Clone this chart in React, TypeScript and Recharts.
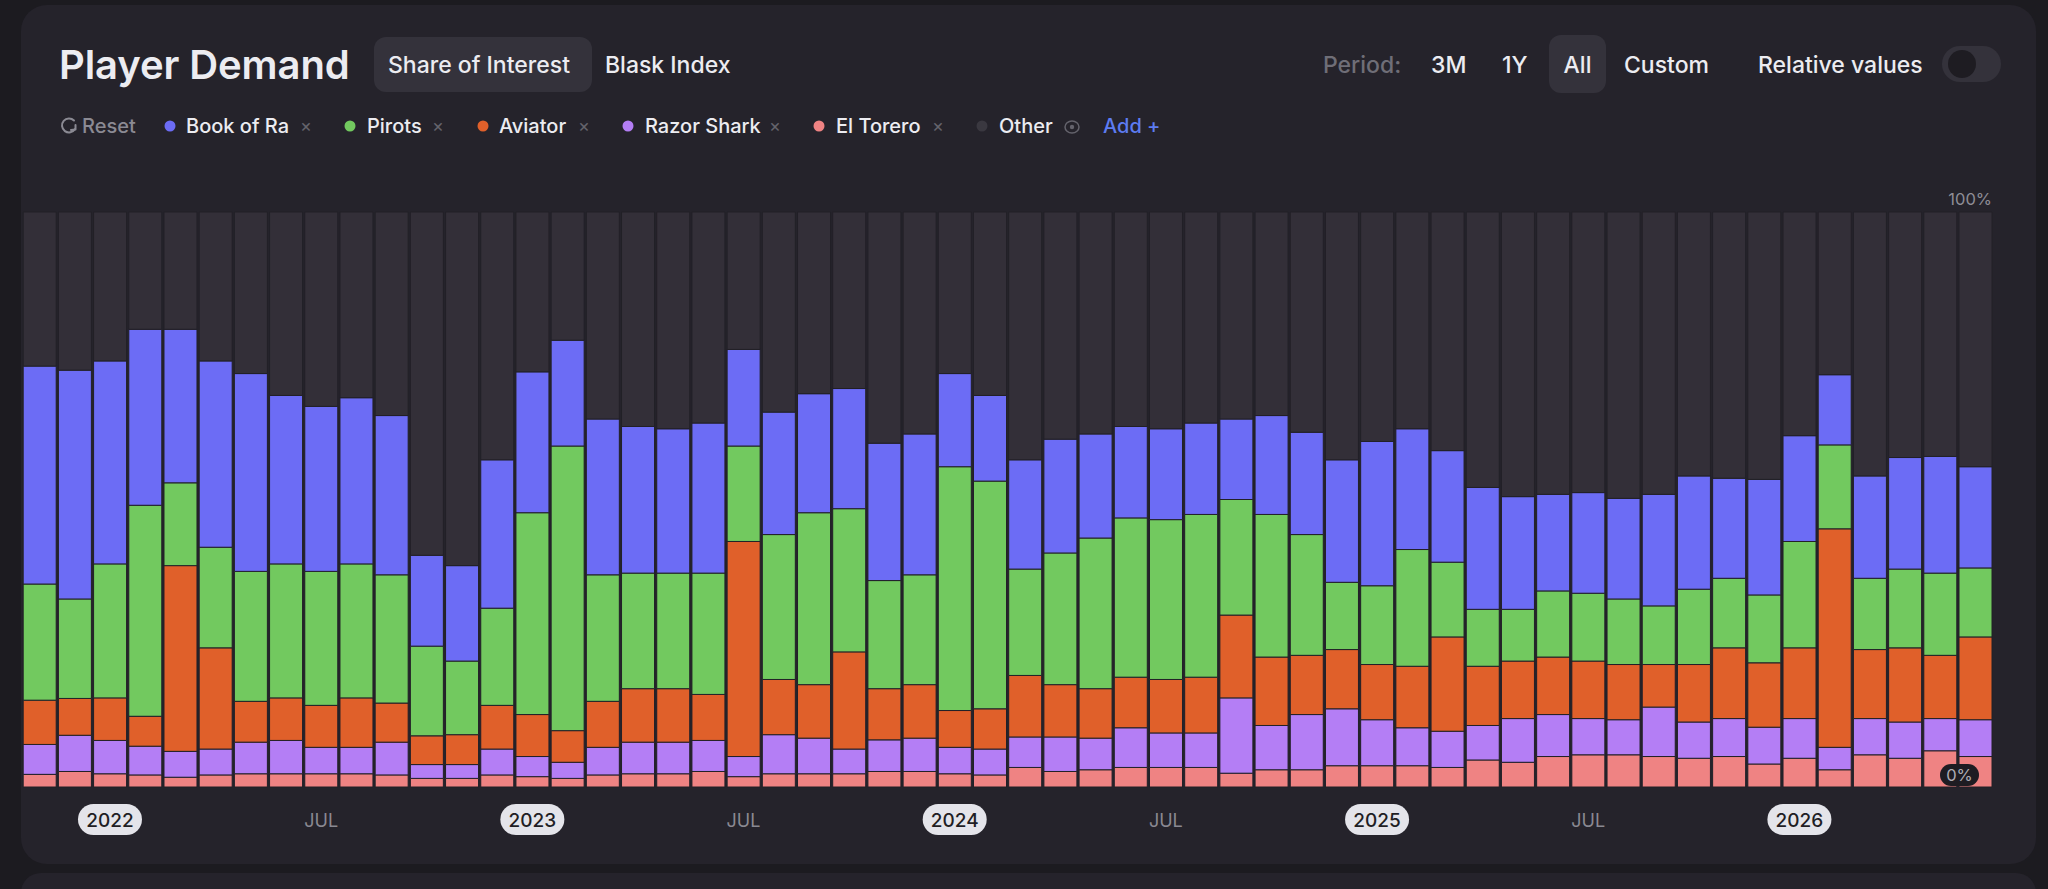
import React from 'react';
import { BarChart, Bar, XAxis, YAxis } from 'recharts';

const months = [
  '2021-11', '2021-12',
  '2022-01', '2022-02', '2022-03', '2022-04', '2022-05', '2022-06', '2022-07', '2022-08', '2022-09', '2022-10', '2022-11', '2022-12',
  '2023-01', '2023-02', '2023-03', '2023-04', '2023-05', '2023-06', '2023-07', '2023-08', '2023-09', '2023-10', '2023-11', '2023-12',
  '2024-01', '2024-02', '2024-03', '2024-04', '2024-05', '2024-06', '2024-07', '2024-08', '2024-09', '2024-10', '2024-11', '2024-12',
  '2025-01', '2025-02', '2025-03', '2025-04', '2025-05', '2025-06', '2025-07', '2025-08', '2025-09', '2025-10', '2025-11', '2025-12',
  '2026-01', '2026-02', '2026-03', '2026-04', '2026-05', '2026-06',
];

const elTorero = [2.2, 2.7, 2.3, 2.1, 1.7, 2.1, 2.3, 2.3, 2.3, 2.3, 2.1, 1.5, 1.5, 2.1, 1.8, 1.5, 2.1, 2.3, 2.3, 2.7, 1.8, 2.3, 2.3, 2.3, 2.7, 2.7, 2.3, 2.1, 3.4, 2.7, 3.0, 3.4, 3.4, 3.4, 2.4, 3.0, 3.0, 3.7, 3.7, 3.7, 3.4, 4.7, 4.3, 5.3, 5.6, 5.6, 5.3, 5.0, 5.3, 4.0, 5.0, 3.0, 5.6, 5.0, 6.3, 5.3];
const razorShark = [5.2, 6.3, 5.8, 5.0, 4.5, 4.5, 5.5, 5.8, 4.6, 4.6, 5.7, 2.4, 2.4, 4.5, 3.5, 2.8, 4.8, 5.5, 5.5, 5.4, 3.5, 6.8, 6.2, 4.3, 5.5, 5.8, 4.6, 4.5, 5.3, 6.0, 5.5, 6.9, 6.0, 6.0, 13.1, 7.7, 9.6, 9.9, 8.0, 6.6, 6.3, 6.0, 7.6, 7.3, 6.3, 6.1, 8.6, 6.3, 6.6, 6.4, 6.9, 3.9, 6.3, 6.3, 5.6, 6.4];
const aviator = [7.7, 6.4, 7.4, 5.2, 32.3, 17.6, 7.1, 7.4, 7.3, 8.6, 6.8, 5.0, 5.2, 7.6, 7.3, 5.5, 8.0, 9.3, 9.3, 8.0, 37.4, 9.6, 9.3, 16.9, 8.9, 9.3, 6.4, 7.0, 10.7, 9.1, 8.6, 8.8, 9.3, 9.7, 14.4, 11.9, 10.3, 10.3, 9.6, 10.7, 16.4, 10.3, 10.0, 10.0, 10.0, 9.6, 7.4, 10.0, 12.3, 11.2, 12.3, 38.0, 12.0, 12.9, 11.0, 14.4];
const pirots = [20.2, 17.3, 23.3, 36.7, 14.4, 17.5, 22.6, 23.3, 23.3, 23.3, 22.3, 15.6, 12.8, 16.9, 35.1, 49.5, 22.0, 20.1, 20.1, 21.1, 16.6, 25.2, 29.9, 24.9, 18.8, 19.1, 42.4, 39.6, 18.5, 22.9, 26.2, 27.7, 27.8, 28.3, 20.1, 24.8, 21.0, 11.7, 13.7, 20.3, 13.0, 9.9, 9.0, 11.5, 11.8, 11.4, 10.2, 13.1, 12.1, 11.8, 18.5, 14.6, 12.4, 13.7, 14.3, 12.0];
const bookOfRa = [37.9, 39.8, 35.3, 30.6, 26.7, 32.4, 34.4, 29.3, 28.7, 28.9, 27.7, 15.8, 16.6, 25.8, 24.5, 18.4, 27.1, 25.5, 25.1, 26.1, 16.8, 21.3, 20.7, 20.9, 23.9, 24.5, 16.2, 14.9, 19.0, 19.8, 18.1, 15.9, 15.8, 15.9, 14.0, 17.2, 17.8, 21.3, 25.1, 21.0, 19.4, 21.2, 19.6, 16.8, 17.5, 17.5, 19.4, 19.7, 17.4, 20.1, 18.4, 12.2, 17.8, 19.4, 20.3, 17.6];
const other = [26.8, 27.5, 25.9, 20.4, 20.4, 25.9, 28.1, 31.9, 33.8, 32.3, 35.4, 59.7, 61.5, 43.1, 27.8, 22.3, 36.0, 37.3, 37.7, 36.7, 23.9, 34.8, 31.6, 30.7, 40.2, 38.6, 28.1, 31.9, 43.1, 39.5, 38.6, 37.3, 37.7, 36.7, 36.0, 35.4, 38.3, 43.1, 39.9, 37.7, 41.5, 47.9, 49.5, 49.1, 48.8, 49.8, 49.1, 45.9, 46.3, 46.5, 38.9, 28.3, 45.9, 42.7, 42.5, 44.3];

const yTicks = [0, 100];

const series = [
  { key: 'elTorero', name: 'El Torero', color: '#ef8383' },
  { key: 'razorShark', name: 'Razor Shark', color: '#b47ef5' },
  { key: 'aviator', name: 'Aviator', color: '#e0602a' },
  { key: 'pirots', name: 'Pirots', color: '#72c95f' },
  { key: 'bookOfRa', name: 'Book of Ra', color: '#6c6cf5' },
  { key: 'other', name: 'Other', color: '#332f38' },
];

const data = months.map((m, i) => ({
  month: m,
  elTorero: elTorero[i],
  razorShark: razorShark[i],
  aviator: aviator[i],
  pirots: pirots[i],
  bookOfRa: bookOfRa[i],
  other: other[i],
}));

const FONT = "Inter, 'Noto Sans', 'DejaVu Sans', sans-serif";
const PAGE_BG = '#1c1b20';
const CARD_BG = '#25232b';
const CHIP_BG = '#34323b';
const TEXT = '#ececf1';
const MUTED = '#6f6e77';

function MonthTick(props: any) {
  const { x, y, payload } = props;
  const parts = String(payload.value).split('-');
  const yr = parts[0];
  const mo = parts[1];
  if (mo === '01') {
    return (
      <g>
        <rect x={x - 32} y={y + 17} width={64} height={31} rx={15.5} fill="#e4e4ea" />
        <text x={x} y={y + 40} textAnchor="middle" fontSize={19} fontWeight={500} fill="#1f1e24" fontFamily={FONT}>
          {yr}
        </text>
      </g>
    );
  }
  if (mo === '07') {
    return (
      <text x={x} y={y + 40} textAnchor="middle" fontSize={18} fill="#8a8992" fontFamily={FONT}>
        JUL
      </text>
    );
  }
  return <g />;
}

function PctTick(props: any) {
  const { y, payload } = props;
  if (payload.value === 100) {
    return (
      <text x={1992} y={y - 7} textAnchor="end" fontSize={16.5} fill="#8e8d96" fontFamily={FONT}>
        100%
      </text>
    );
  }
  return (
    <g>
      <rect x={1940} y={y - 23} width={39} height={22} rx={11} fill="#1e1c22" />
      <text x={1959.5} y={y - 6} textAnchor="middle" fontSize={16.5} fill="#aeadb5" fontFamily={FONT}>
        0%
      </text>
    </g>
  );
}

const legendItems = [
  { name: 'Book of Ra', color: '#6c6cf5', dot: 170, label: 186, x: 306 },
  { name: 'Pirots', color: '#72c95f', dot: 350, label: 367, x: 438 },
  { name: 'Aviator', color: '#e0602a', dot: 483, label: 499, x: 584 },
  { name: 'Razor Shark', color: '#b47ef5', dot: 628, label: 645, x: 775 },
  { name: 'El Torero', color: '#ef8383', dot: 819, label: 836, x: 938 },
];

function Header() {
  const t = { fontFamily: FONT } as any;
  return (
    <svg width={2048} height={889} style={{ position: 'absolute', left: 0, top: 0, pointerEvents: 'none' }}>
      <text x={59} y={79} fontSize={40} fontWeight={600} fill={TEXT} letterSpacing={-0.1} style={t}>
        Player Demand
      </text>
      <rect x={374} y={37} width={218} height={55} rx={12} fill={CHIP_BG} />
      <text x={388} y={73} fontSize={23} fontWeight={500} fill={TEXT} style={t}>Share of Interest</text>
      <text x={605} y={73} fontSize={23} fontWeight={500} fill={TEXT} style={t}>Blask Index</text>

      <text x={1323} y={73} fontSize={23} fontWeight={500} fill={MUTED} style={t}>Period:</text>
      <text x={1431} y={73} fontSize={23} fontWeight={500} fill={TEXT} style={t}>3M</text>
      <text x={1502} y={73} fontSize={23} fontWeight={500} fill={TEXT} style={t}>1Y</text>
      <rect x={1549} y={35} width={57} height={58} rx={12} fill={CHIP_BG} />
      <text x={1577.5} y={73} fontSize={23} fontWeight={500} fill={TEXT} textAnchor="middle" style={t}>All</text>
      <text x={1624} y={73} fontSize={23} fontWeight={500} fill={TEXT} style={t}>Custom</text>
      <text x={1758} y={73} fontSize={23} fontWeight={500} fill={TEXT} style={t}>Relative values</text>
      <rect x={1942} y={46} width={59} height={36} rx={18} fill={CHIP_BG} />
      <circle cx={1962} cy={64} r={14} fill="#1e1c22" />

      {/* Reset */}
      <path d="M 74 120.5 A 7 7 0 1 0 75 129" stroke="#8b8a93" strokeWidth={2} fill="none" strokeLinecap="round" />
      <path d="M 71 130 L 75.5 129.5 L 75.5 125" stroke="#8b8a93" strokeWidth={2} fill="none" strokeLinecap="round" strokeLinejoin="round" />
      <text x={82} y={133} fontSize={20} fontWeight={500} fill="#8b8a93" style={t}>Reset</text>

      {legendItems.map((it) => (
        <g key={it.name}>
          <circle cx={it.dot} cy={126} r={5.5} fill={it.color} />
          <text x={it.label} y={133} fontSize={20} fontWeight={500} fill={TEXT} style={t}>{it.name}</text>
          <text x={it.x} y={132} fontSize={18} fill="#64636c" textAnchor="middle" style={t}>×</text>
        </g>
      ))}
      <circle cx={982} cy={126} r={5.5} fill="#3a3840" />
      <text x={999} y={133} fontSize={20} fontWeight={500} fill={TEXT} style={t}>Other</text>
      <ellipse cx={1072} cy={127} rx={7} ry={6} stroke="#64636c" strokeWidth={1.5} fill="none" />
      <circle cx={1072} cy={127} r={2.2} fill="#64636c" />
      <text x={1103} y={133} fontSize={20} fontWeight={500} fill="#5d7cf2" style={t}>Add +</text>
    </svg>
  );
}

export default function App() {
  return (
    <div style={{ position: 'absolute', left: 0, top: 0, width: 2048, height: 889, background: PAGE_BG, overflow: 'hidden', fontFamily: FONT }}>
      <div style={{ position: 'absolute', left: 21, top: 5, width: 2015, height: 859, background: CARD_BG, borderRadius: 26 }} />
      <div style={{ position: 'absolute', left: 21, top: 873, width: 2015, height: 60, background: CARD_BG, borderRadius: 20 }} />
      <Header />
      <div style={{ position: 'absolute', left: 0, top: 0 }}>
        <BarChart
          width={2048}
          height={889}
          data={data}
          margin={{ top: 212, right: 55, bottom: 42, left: 22 }}
          barCategoryGap={1.2}
        >
          <XAxis
            dataKey="month"
            interval={0}
            axisLine={false}
            tickLine={false}
            tickSize={0}
            tickMargin={0}
            height={60}
            tick={<MonthTick />}
          />
          {series.map((s) => (
            <Bar
              key={s.key}
              dataKey={s.key}
              name={s.name}
              stackId="share"
              fill={s.color}
              stroke="#222027"
              strokeWidth={1}
              isAnimationActive={false}
            />
          ))}
          <YAxis
            orientation="right"
            mirror
            type="number"
            domain={[0, 100]}
            ticks={yTicks}
            interval={0}
            axisLine={false}
            tickLine={false}
            tickSize={0}
            tickMargin={0}
            width={40}
            tick={<PctTick />}
          />
        </BarChart>
      </div>
    </div>
  );
}
